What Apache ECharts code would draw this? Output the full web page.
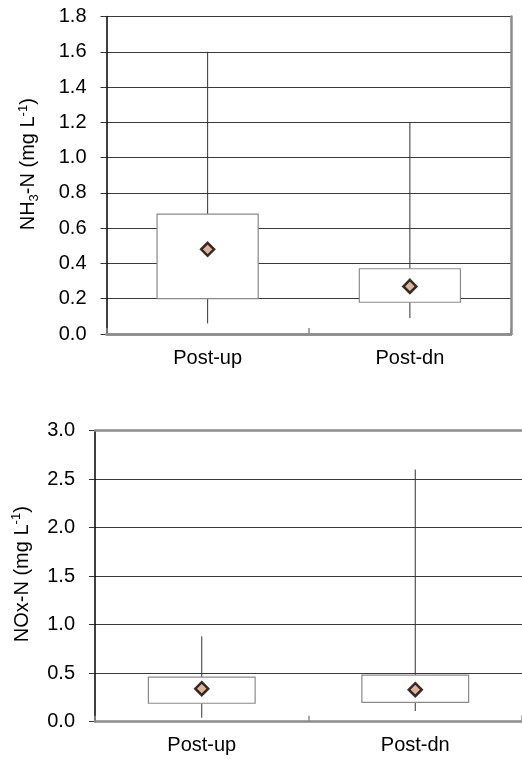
<!DOCTYPE html>
<html>
<head>
<meta charset="utf-8">
<script src="https://cdn.jsdelivr.net/npm/echarts@6/dist/echarts.min.js"></script>
<style>
  html, body { margin: 0; padding: 0; background: #fff; }
  #chart { width: 522px; height: 759px; }
</style>
</head>
<body>
<div id="chart"></div>
<script>
const categories = ['Post-up', 'Post-dn'];

// NH3-N (mg L-1): whisker low, box low, box high, whisker high, mean
const nh3Min = [0.06, 0.09];
const nh3Q1 = [0.20, 0.18];
const nh3Q3 = [0.68, 0.37];
const nh3Max = [1.60, 1.20];
const nh3Mean = [0.48, 0.27];
const nh3Ticks = { min: 0, max: 1.8, interval: 0.2 };

// NOx-N (mg L-1)
const noxMin = [0.04, 0.11];
const noxQ1 = [0.19, 0.20];
const noxQ3 = [0.46, 0.48];
const noxMax = [0.88, 2.60];
const noxMean = [0.34, 0.33];
const noxTicks = { min: 0, max: 3.0, interval: 0.5 };

const FONT = 'Liberation Sans, Arial, sans-serif';

function boxRows(lo, q1, q3, hi) {
  return categories.map((c, i) => [i, lo[i], q1[i], q3[i], hi[i]]);
}

// whiskers without caps, white box with grey edge
function renderBox(params, api) {
  const i = api.value(0);
  const lo = api.coord([i, api.value(1)]);
  const q1 = api.coord([i, api.value(2)]);
  const q3 = api.coord([i, api.value(3)]);
  const hi = api.coord([i, api.value(4)]);
  const w = api.size([1, 0])[0] * 0.5;
  const whisker = { stroke: '#333', lineWidth: 1 };
  return {
    type: 'group',
    children: [
      { type: 'line', shape: { x1: lo[0], y1: lo[1], x2: q1[0], y2: q1[1] }, style: whisker },
      { type: 'line', shape: { x1: q3[0], y1: q3[1], x2: hi[0], y2: hi[1] }, style: whisker },
      {
        type: 'rect',
        shape: { x: q3[0] - w / 2, y: q3[1], width: w, height: q1[1] - q3[1] },
        style: { fill: '#fff', stroke: '#8a8a8a', lineWidth: 1.2 }
      }
    ]
  };
}

const nameRich = {
  a: { fontSize: 20, fontFamily: FONT, color: '#000', lineHeight: 24 },
  sub: { fontSize: 13, fontFamily: FONT, color: '#000', lineHeight: 13, verticalAlign: 'bottom' },
  sup: { fontSize: 13, fontFamily: FONT, color: '#000', lineHeight: 13, verticalAlign: 'top' }
};

function valueAxis(ticks, name, gap, shift, gridIndex) {
  return {
    type: 'value',
    gridIndex: gridIndex,
    min: ticks.min,
    max: ticks.max,
    interval: ticks.interval,
    name: name,
    nameLocation: 'middle',
    nameRotate: 90,
    nameGap: gap,
    nameTextStyle: { rich: nameRich, padding: [0, 0, 0, shift] },
    axisLine: { show: true, lineStyle: { color: '#000', width: 1.5 } },
    axisTick: { show: true, length: 6, lineStyle: { color: '#333' } },
    axisLabel: {
      margin: 20,
      fontSize: 20,
      fontFamily: FONT,
      color: '#000',
      formatter: v => v.toFixed(1)
    },
    splitLine: { show: true, lineStyle: { color: '#3a3a3a', width: 1 } }
  };
}

function catAxis(gridIndex) {
  return {
    type: 'category',
    gridIndex: gridIndex,
    data: categories,
    boundaryGap: true,
    axisLine: { show: true, lineStyle: { color: '#8c8c8c', width: 2.5 } },
    axisTick: { show: true, inside: true, length: 6, lineStyle: { color: '#8c8c8c', width: 1.5 } },
    axisLabel: { margin: 14, fontSize: 20, fontFamily: FONT, color: '#000' },
    splitLine: { show: false },
    z: 3
  };
}

// plain frame line along the top, drawn as an extra axis
function frameX(gridIndex) {
  return {
    type: 'category', gridIndex: gridIndex, position: 'top', data: categories,
    axisLine: { show: true, lineStyle: { color: '#8c8c8c', width: 2.5 } },
    axisTick: { show: false }, axisLabel: { show: false }, splitLine: { show: false }, z: 3
  };
}

const option = {
  animation: false,
  backgroundColor: '#fff',
  grid: [
    { left: 106.5, right: 11, top: 16.5, height: 317.5, outerBoundsMode: 'none' },
    { left: 95, right: 0, top: 430.7, height: 291, outerBoundsMode: 'none' }
  ],
  xAxis: [catAxis(0), frameX(0), catAxis(1), frameX(1)],
  yAxis: [
    valueAxis(nh3Ticks, '{a|NH}{sub|3}{a|-N (mg L}{sup|-1}{a|)}', 66, 22, 0),
    {
      type: 'value', gridIndex: 0, position: 'right',
      min: nh3Ticks.min, max: nh3Ticks.max, interval: nh3Ticks.interval,
      axisLine: { show: true, lineStyle: { color: '#8c8c8c', width: 2.5 } },
      axisTick: { show: false }, axisLabel: { show: false }, splitLine: { show: false }, z: 3
    },
    valueAxis(noxTicks, '{a|NOx-N (mg L}{sup|-1}{a|)}', 61, 4, 1)
  ],
  series: [
    {
      type: 'custom', xAxisIndex: 0, yAxisIndex: 0,
      renderItem: renderBox,
      data: boxRows(nh3Min, nh3Q1, nh3Q3, nh3Max),
      z: 2
    },
    {
      type: 'scatter', xAxisIndex: 0, yAxisIndex: 0,
      symbol: 'diamond', symbolSize: 13,
      itemStyle: { color: '#dc9f7c', borderColor: '#000', borderWidth: 2.5 },
      data: nh3Mean.map((v, i) => [i, v]),
      z: 4
    },
    {
      type: 'custom', xAxisIndex: 2, yAxisIndex: 2,
      renderItem: renderBox,
      data: boxRows(noxMin, noxQ1, noxQ3, noxMax),
      z: 2
    },
    {
      type: 'scatter', xAxisIndex: 2, yAxisIndex: 2,
      symbol: 'diamond', symbolSize: 13,
      itemStyle: { color: '#dc9f7c', borderColor: '#000', borderWidth: 2.5 },
      data: noxMean.map((v, i) => [i, v]),
      z: 4
    }
  ]
};

const chart = echarts.init(document.getElementById('chart'), null, { renderer: 'canvas' });
chart.setOption(option);
</script>
</body>
</html>
